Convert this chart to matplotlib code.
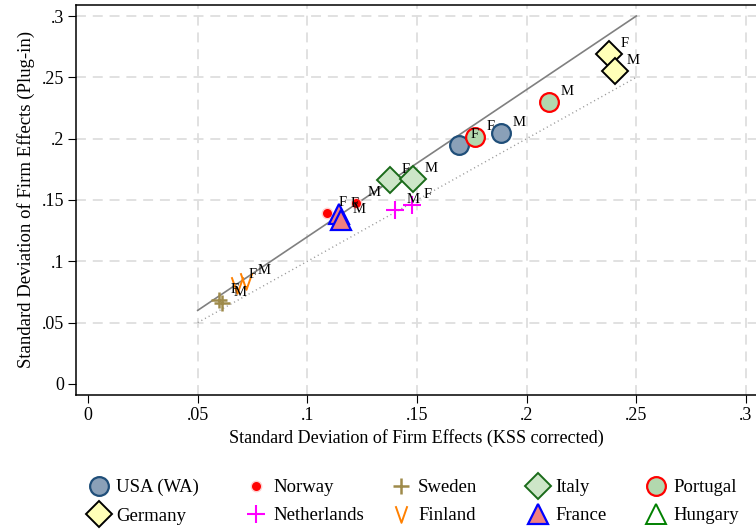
import matplotlib
matplotlib.use("Agg")
import matplotlib.pyplot as plt
from matplotlib.lines import Line2D
from matplotlib.path import Path

plt.rcParams['font.family'] = ['Liberation Serif', 'DejaVu Serif']

# Standard deviation of firm effects: KSS corrected (x) vs plug-in (y), female / male
countries = ["USA (WA)", "Norway", "Sweden", "Italy", "Portugal",
             "Germany", "Netherlands", "Finland", "France", "Hungary"]
kss_f = {"USA (WA)": 0.1692, "Norway": 0.1090, "Sweden": 0.0597, "Italy": 0.1377,
         "Portugal": 0.1765, "Germany": 0.2376, "Netherlands": 0.1477,
         "Finland": 0.0679, "France": 0.1145}
kss_m = {"USA (WA)": 0.1883, "Norway": 0.1222, "Sweden": 0.0611, "Italy": 0.1482,
         "Portugal": 0.2102, "Germany": 0.2403, "Netherlands": 0.1400,
         "Finland": 0.0720, "France": 0.1154}
plug_f = {"USA (WA)": 0.1948, "Norway": 0.1394, "Sweden": 0.0685, "Italy": 0.1663,
          "Portugal": 0.2014, "Germany": 0.2690, "Netherlands": 0.1459,
          "Finland": 0.0807, "France": 0.1386}
plug_m = {"USA (WA)": 0.2046, "Norway": 0.1476, "Sweden": 0.0660, "Italy": 0.1671,
          "Portugal": 0.2299, "Germany": 0.2552, "Netherlands": 0.1418,
          "Finland": 0.0840, "France": 0.1337}

ticks = [0, 0.05, 0.1, 0.15, 0.2, 0.25, 0.3]
tick_labels = ["0", ".05", ".1", ".15", ".2", ".25", ".3"]
ref_x = [0.05, 0.25]
ratio_line = 1.2  # slope of the solid reference line

v_marker = Path([(-0.7, 1), (0, -1), (0.7, 1)], [Path.MOVETO, Path.LINETO, Path.LINETO])

styles = {
    "USA (WA)":    dict(marker='o', ms=13.5, mfc='#8aa0b8', mec='#1f4e79', mew=1.6),
    "Norway":      dict(marker='o', ms=7.5, mfc='#ff0000', mec='#ffd0d0', mew=1.0),
    "Sweden":      dict(marker='+', ms=11, mfc='none', mec='#9e8a4a', mew=1.8),
    "Italy":       dict(marker='D', ms=13, mfc='#cde6c8', mec='#1a6b1a', mew=1.4),
    "Portugal":    dict(marker='o', ms=13.5, mfc='#b2d8ae', mec='#ff0000', mew=1.6),
    "Germany":     dict(marker='D', ms=13, mfc='#ffffb8', mec='black', mew=1.4),
    "Netherlands": dict(marker='+', ms=12.5, mfc='none', mec='#ff00ff', mew=1.5),
    "Finland":     dict(marker=v_marker, ms=12, mfc='none', mec='#ff8000', mew=1.4),
    "France":      dict(marker='^', ms=14, mfc='#f08080', mec='#0000ff', mew=1.6),
    "Hungary":     dict(marker='^', ms=14, mfc='none', mec='#008000', mew=1.4),
}

fig = plt.figure(figsize=(7.56, 5.31), dpi=100)
ax = fig.add_axes([76 / 756, 136 / 531, 680 / 756, 390.5 / 531])
ax.set_xlim(-0.0055, 0.3046)
ax.set_ylim(-0.009, 0.3094)

# dashed grid at every tick except zero
for t in ticks[1:]:
    ax.axhline(t, color='#dedede', lw=1.3, ls=(0, (5.5, 3.8)), zorder=0)
    ax.axvline(t, color='#dedede', lw=1.3, ls=(0, (5.5, 3.8)), zorder=0)

ax.plot(ref_x, [ratio_line * v for v in ref_x], color='#808080', lw=1.2, zorder=1)
ax.plot(ref_x, ref_x, color='#999999', lw=1.0, ls=(0, (0.8, 2.2)), zorder=1)

# F points first, M points on top, each with its letter to the upper right
for sex, xs, ys in [("F", kss_f, plug_f), ("M", kss_m, plug_m)]:
    for c in countries:
        if c not in xs:
            continue
        ax.plot([xs[c]], [ys[c]], ls='none', zorder=3, **styles[c])
        ax.annotate(sex, (xs[c], ys[c]), xytext=(8.3, 7.5), textcoords='offset points',
                    ha='left', va='center', fontsize=10.5, zorder=4)

ax.set_xticks(ticks)
ax.set_xticklabels(tick_labels)
ax.set_yticks(ticks)
ax.set_yticklabels(tick_labels)
ax.tick_params(direction='out', length=5.5, width=0.8, labelsize=13, pad=3)
for s in ['left', 'bottom', 'top']:
    ax.spines[s].set_linewidth(1.1)
ax.spines['right'].set_visible(False)

ax.set_xlabel("Standard Deviation of Firm Effects (KSS corrected)", fontsize=13, labelpad=4)
ax.set_ylabel("Standard Deviation of Firm Effects (Plug-in)", fontsize=13.5, labelpad=5)

# legend: two rows, five columns, laid out column by column
col_x = [88, 245, 390, 527, 645]
columns = [("USA (WA)", "Germany"), ("Norway", "Netherlands"), ("Sweden", "Finland"),
           ("Italy", "France"), ("Portugal", "Hungary")]
for x0, pair in zip(col_x, columns):
    handles = [Line2D([], [], ls='none', label=c, **styles[c]) for c in pair]
    fig.legend(handles=handles, loc='upper left', bbox_to_anchor=(x0 / 756, 1 - 479 / 531),
               frameon=False, fontsize=13.5, handlelength=1.2, handletextpad=0.3,
               labelspacing=0.6, borderpad=0, borderaxespad=0)

fig.savefig("out.png", dpi=100)
